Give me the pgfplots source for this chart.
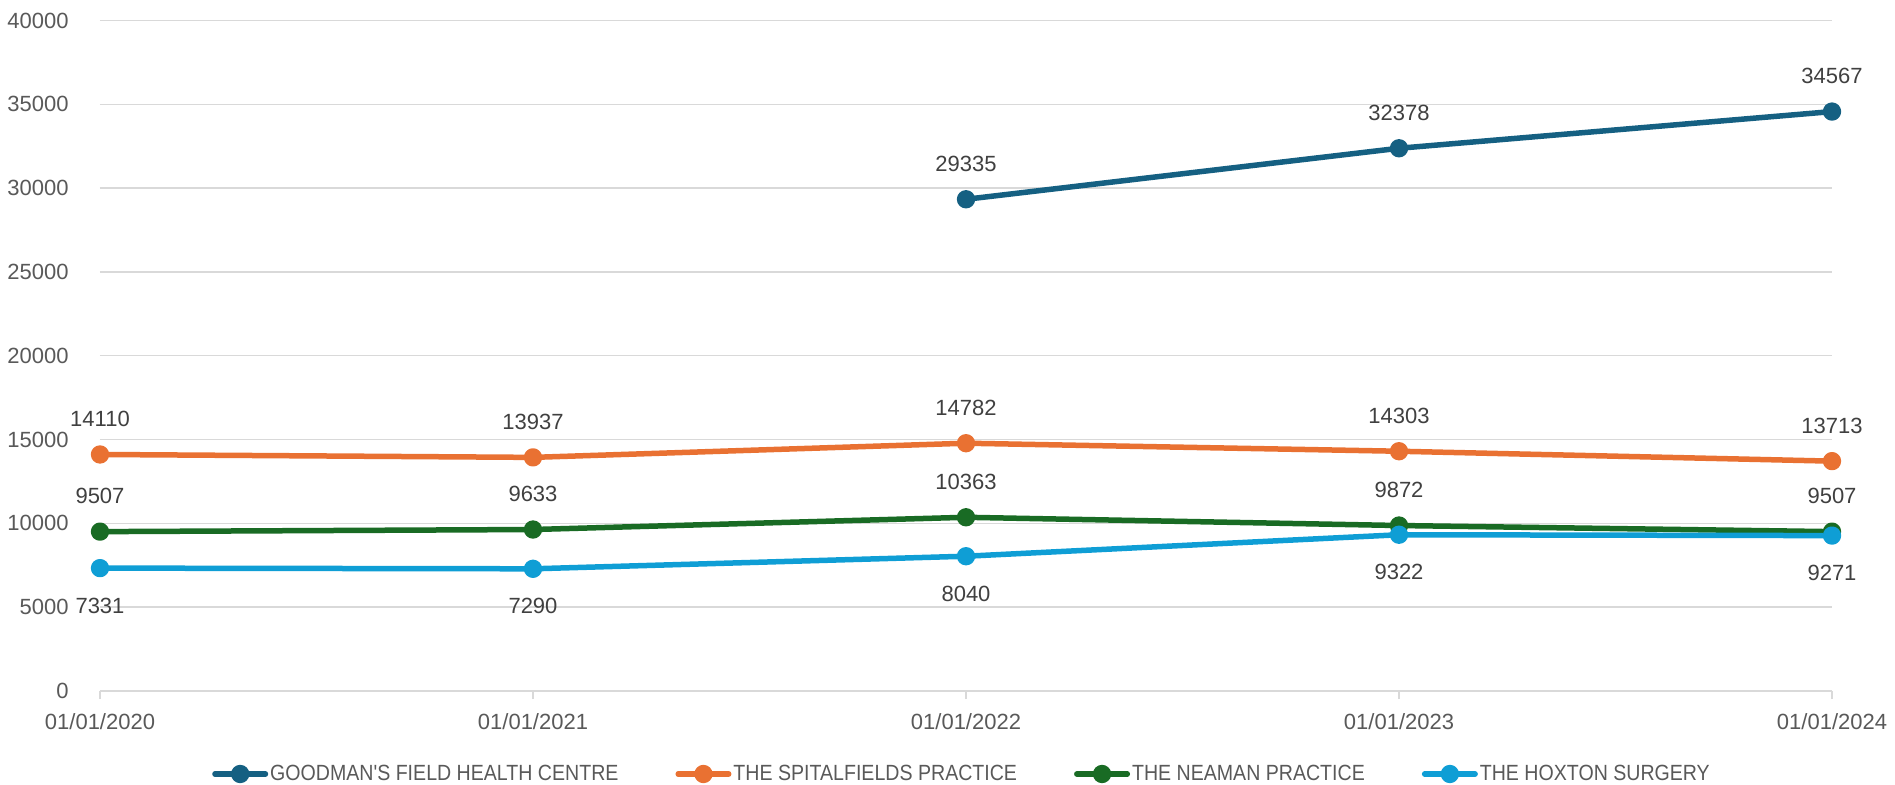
\documentclass[border=0pt]{standalone}
\usepackage{fontspec}
\setmainfont{Liberation Sans}
\newfontfamily\narrowfont[FakeStretch=0.89]{Liberation Sans}
\usepackage{pgfplots}
\pgfplotsset{compat=1.18}
\definecolor{cA}{HTML}{156082}
\definecolor{cB}{HTML}{E97132}
\definecolor{cC}{HTML}{196B24}
\definecolor{cD}{HTML}{0F9ED5}
\definecolor{gridc}{HTML}{D9D9D9}
\definecolor{tickc}{HTML}{595959}
\definecolor{labc}{HTML}{404040}
\begin{document}
\begin{tikzpicture}
\begin{axis}[
  at={(0,0)}, anchor=south west,
  scale only axis, width=866bp, height=335.25bp,
  xmin=0, xmax=4, ymin=0, ymax=40000,
  xtick={0,1,2,3,4},
  xticklabels={01/01/2020,01/01/2021,01/01/2022,01/01/2023,01/01/2024},
  ytick={0,5000,...,40000},
  scaled y ticks=false,
  /pgf/number format/assume math mode=true,
  /pgf/number format/1000 sep={},
  axis line style={draw=none},
  ymajorgrids, grid style={gridc, line width=0.75bp},
  xtick pos=lower, ytick pos=left,
  tick align=outside, major tick length=4bp,
  xtick style={gridc, line width=0.75bp},
  ytick style={draw=none},
  tick label style={font=\fontsize{11bp}{13bp}\selectfont, text=tickc, inner sep=0pt},
  yticklabel style={anchor=east, xshift=-11.5bp},
  xticklabel style={anchor=north, yshift=-7bp},
  every node near coord/.append style={font=\fontsize{11bp}{13bp}\selectfont, text=labc, inner sep=0pt, anchor=south, yshift=12.5bp},
  legend style={at={(axis description cs:0.4977,0)}, anchor=center, yshift=-41.5bp, draw=none, fill=none,
    font=\narrowfont\fontsize{11bp}{13bp}\selectfont, text=tickc,
    /tikz/every even column/.append style={column sep=27.5bp},
    /tikz/every odd column/.append style={column sep=0bp},
    inner sep=0pt, nodes={inner sep=1bp}},
  legend columns=4,
  legend image code/.code={\draw[mark repeat=2,mark phase=2,line cap=round] plot coordinates {(0bp,0bp)(12.625bp,0bp)(25.25bp,0bp)};},
]
\addplot[cA, line width=2.75bp, line join=round, line cap=round, mark=*, mark size=3.2bp, mark options={solid, draw=none, fill=cA},
  nodes near coords, point meta=explicit symbolic]
  coordinates {(2,29335)[29335] (3,32378)[32378] (4,34567)[34567]};
\addlegendentry{GOODMAN'S FIELD HEALTH CENTRE}
\addplot[cB, line width=2.75bp, line join=round, line cap=round, mark=*, mark size=3.2bp, mark options={solid, draw=none, fill=cB},
  nodes near coords, point meta=explicit symbolic]
  coordinates {(0,14110)[14110] (1,13937)[13937] (2,14782)[14782] (3,14303)[14303] (4,13713)[13713]};
\addlegendentry{THE SPITALFIELDS PRACTICE}
\addplot[cC, line width=2.75bp, line join=round, line cap=round, mark=*, mark size=3.2bp, mark options={solid, draw=none, fill=cC},
  nodes near coords, point meta=explicit symbolic]
  coordinates {(0,9507)[9507] (1,9633)[9633] (2,10363)[10363] (3,9872)[9872] (4,9507)[9507]};
\addlegendentry{THE NEAMAN PRACTICE}
\addplot[cD, line width=2.75bp, line join=round, line cap=round, mark=*, mark size=3.2bp, mark options={solid, draw=none, fill=cD},
  nodes near coords, point meta=explicit symbolic,
  every node near coord/.append style={anchor=north, yshift=-26bp}]
  coordinates {(0,7331)[7331] (1,7290)[7290] (2,8040)[8040] (3,9322)[9322] (4,9271)[9271]};
\addlegendentry{THE HOXTON SURGERY}
\end{axis}
\pgfresetboundingbox
\path[use as bounding box] (-50bp,-47bp) rectangle (897.5bp,345.5bp);
\end{tikzpicture}
\end{document}
